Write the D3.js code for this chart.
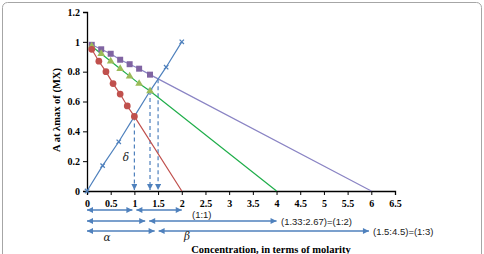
<!DOCTYPE html>
<html>
<head>
<meta charset="utf-8">
<script src="https://cdn.jsdelivr.net/npm/d3@7.9.0/dist/d3.min.js"></script>
<style>
  body { margin: 0; background: #fff; }
  svg { display: block; }
  .tick text { font-family: "Liberation Serif", serif; font-weight: bold; font-size: 10px; }
</style>
</head>
<body>
<svg id="chart" width="484" height="254"></svg>
<script>
// series
const redX = [0.1, 0.25, 0.4, 0.55, 0.7, 0.85, 1.0];
const redY = [0.95, 0.87, 0.8, 0.72, 0.65, 0.57, 0.5];
const redEnd = [2, 0];

const greenX = [0.1, 0.3, 0.5, 0.7, 0.9, 1.1, 1.33];
const greenY = [0.97, 0.92, 0.87, 0.82, 0.77, 0.72, 0.67];
const greenEnd = [4, 0];

const purpleX = [0.1, 0.3, 0.5, 0.7, 0.9, 1.1, 1.33];
const purpleY = [0.98, 0.95, 0.92, 0.88, 0.85, 0.82, 0.78];
const purpleEnd = [6, 0];

const blueX = [0, 0.33, 0.67, 1, 1.33, 1.67, 2];
const blueY = [0, 0.17, 0.33, 0.5, 0.67, 0.83, 1];

// intersection drops
const dropX = [1, 1.33, 1.5];
const dropY = [0.5, 0.67, 0.75];

// ratio arrows under the axis
const arrowSplit = [1.0, 1.27, 1.47];
const arrowEnd = [2, 4, 5.95];
const ratioLabels = ['(1:1)', '(1.33:2.67)=(1:2)', '(1.5:4.5)=(1:3)'];

const xTicks = [0, 0.5, 1, 1.5, 2, 2.5, 3, 3.5, 4, 4.5, 5, 5.5, 6, 6.5];
const yTicks = [0, 0.2, 0.4, 0.6, 0.8, 1, 1.2];

const svg = d3.select('#chart');

// frame
svg.append('rect')
  .attr('x', 2.5).attr('y', 2.5).attr('width', 479).attr('height', 262)
  .attr('rx', 5).attr('fill', 'none').attr('stroke', '#a6a6a6');

const x = d3.scaleLinear().domain([0, 6.5]).range([87, 395]);
const y = d3.scaleLinear().domain([0, 1.2]).range([191, 12]);

const defs = svg.append('defs');
function arrowMarker(id, color, w, h) {
  defs.append('marker')
    .attr('id', id)
    .attr('viewBox', '0 0 10 10')
    .attr('refX', 10).attr('refY', 5)
    .attr('markerUnits', 'userSpaceOnUse')
    .attr('markerWidth', w).attr('markerHeight', h)
    .attr('orient', 'auto-start-reverse')
    .append('path').attr('d', 'M0,0L10,5L0,10Z').attr('fill', color);
}
arrowMarker('head', '#4f81bd', 7, 6);

// axes
const xAxis = svg.append('g')
  .attr('transform', `translate(0,${y(0)})`)
  .call(d3.axisBottom(x).tickValues(xTicks).tickSize(4).tickPadding(3).tickFormat(d3.format('')));
const yAxis = svg.append('g')
  .attr('transform', `translate(${x(0)},0)`)
  .call(d3.axisLeft(y).tickValues(yTicks).tickSize(4).tickPadding(3).tickFormat(d3.format('')));
[xAxis, yAxis].forEach(a => {
  a.select('.domain').attr('stroke', '#000').attr('stroke-width', 1.3);
  a.selectAll('.tick line').attr('stroke', '#000');
  a.selectAll('.tick text').attr('fill', '#000');
});
xAxis.selectAll('.tick text').attr('dy', '0.9em');

const line = d3.line().x(d => x(d[0])).y(d => y(d[1]));

// dashed drops
dropX.forEach((dx, i) => {
  svg.append('line')
    .attr('x1', x(dx)).attr('y1', y(dropY[i]))
    .attr('x2', x(dx)).attr('y2', y(0) - 1)
    .attr('stroke', '#4f81bd').attr('stroke-width', 1.2)
    .attr('stroke-dasharray', '4,3')
    .attr('marker-end', 'url(#head)');
});

// series lines
const redPts = redX.map((v, i) => [v, redY[i]]);
const greenPts = greenX.map((v, i) => [v, greenY[i]]);
const purplePts = purpleX.map((v, i) => [v, purpleY[i]]);
const bluePts = blueX.map((v, i) => [v, blueY[i]]);

svg.append('path').attr('d', line([...purplePts, purpleEnd]))
  .attr('fill', 'none').attr('stroke', '#8a84c4').attr('stroke-width', 1.2);
svg.append('path').attr('d', line([...greenPts, greenEnd]))
  .attr('fill', 'none').attr('stroke', '#1fae4a').attr('stroke-width', 1.2);
svg.append('path').attr('d', line([...redPts, redEnd]))
  .attr('fill', 'none').attr('stroke', '#c0504d').attr('stroke-width', 1.2);
svg.append('path').attr('d', line(bluePts))
  .attr('fill', 'none').attr('stroke', '#4f81bd').attr('stroke-width', 1.2);

// markers
svg.selectAll('.bm').data(bluePts).enter().append('path')
  .attr('transform', d => `translate(${x(d[0])},${y(d[1])})`)
  .attr('d', d3.symbol(d3.symbolTimes, 14)())
  .attr('fill', 'none').attr('stroke', '#4f81bd').attr('stroke-width', 1.3);
svg.selectAll('.pm').data(purplePts).enter().append('path')
  .attr('transform', d => `translate(${x(d[0])},${y(d[1])})`)
  .attr('d', d3.symbol(d3.symbolSquare, 36)())
  .attr('fill', '#8064a2');
svg.selectAll('.gm').data(greenPts).enter().append('path')
  .attr('transform', d => `translate(${x(d[0])},${y(d[1])})`)
  .attr('d', d3.symbol(d3.symbolTriangle, 26)())
  .attr('fill', '#9bbb59');
svg.selectAll('.rm').data(redPts).enter().append('path')
  .attr('transform', d => `translate(${x(d[0])},${y(d[1])})`)
  .attr('d', d3.symbol(d3.symbolCircle, 36)())
  .attr('fill', '#c0504d');

// ratio arrows
const rowY = [210, 221, 231];
const labelX = [192, 281, 373];
arrowSplit.forEach((s, i) => {
  svg.append('line')
    .attr('x1', x(0)).attr('x2', x(s) - 2)
    .attr('y1', rowY[i]).attr('y2', rowY[i])
    .attr('stroke', '#4f81bd').attr('stroke-width', 1.3)
    .attr('marker-start', 'url(#head)').attr('marker-end', 'url(#head)');
  svg.append('text')
    .attr('x', labelX[i]).attr('y', rowY[i] + (i === 0 ? 5 : 1))
    .attr('dominant-baseline', 'middle')
    .attr('font-family', '"Liberation Sans", Arial, sans-serif')
    .attr('font-size', 9.5).attr('fill', '#222')
    .text(ratioLabels[i]);
  svg.append('line')
    .attr('x1', x(s) + 2).attr('x2', x(arrowEnd[i]))
    .attr('y1', rowY[i]).attr('y2', rowY[i])
    .attr('stroke', '#4f81bd').attr('stroke-width', 1.3)
    .attr('marker-start', 'url(#head)').attr('marker-end', 'url(#head)');
});

// greek labels
const greek = [['α', 107, 241], ['β', 187, 240], ['δ', 126, 161]];
greek.forEach(([t, gx, gy]) => {
  svg.append('text').attr('x', gx).attr('y', gy)
    .attr('text-anchor', 'middle')
    .attr('font-family', '"DejaVu Serif", "Liberation Serif", serif')
    .attr('font-style', 'italic').attr('font-size', 10.5)
    .attr('fill', '#222').text(t);
});

// axis titles
svg.append('text')
  .attr('x', 271).attr('y', 253)
  .attr('text-anchor', 'middle')
  .attr('font-family', '"Liberation Serif", serif')
  .attr('font-weight', 'bold').attr('font-size', 10.5)
  .text('Concentration, in terms of molarity');

svg.append('text')
  .attr('transform', 'translate(60,110) rotate(-90)')
  .attr('text-anchor', 'middle')
  .attr('font-family', '"Liberation Serif", serif')
  .attr('font-weight', 'bold').attr('font-size', 10.5)
  .text('A at λmax of (MX)');
</script>
</body>
</html>
